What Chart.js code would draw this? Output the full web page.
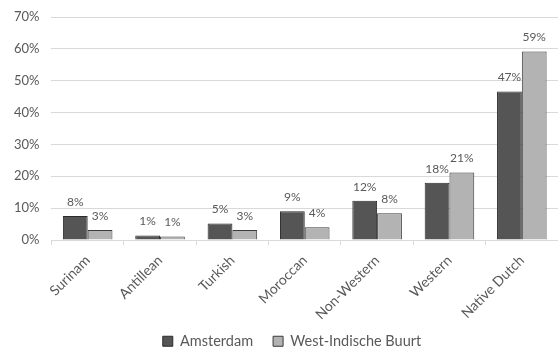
<!DOCTYPE html>
<html>
<head>
<meta charset="utf-8">
<script src="https://cdn.jsdelivr.net/npm/chart.js@4"></script>
<style>
  html, body { margin: 0; padding: 0; background: #fff; }
  #wrap { width: 558px; height: 347px; }
</style>
</head>
<body>
<div id="wrap"><canvas id="chart" width="558" height="347"></canvas></div>
<script>
// categories and values (percent)
const categories = ['Surinam', 'Antillean', 'Turkish', 'Moroccan', 'Non-Western', 'Western', 'Native Dutch'];
const amsterdam = [7.5, 1.4, 5.2, 9.0, 12.3, 18.0, 46.6];
const westIndische = [3.1, 1.1, 3.1, 4.0, 8.4, 21.2, 59.2];
const yTicks = [0, 10, 20, 30, 40, 50, 60, 70];

const textColor = '#595959';
const fontFamily = 'Lato, "Open Sans", sans-serif';

// 棒の上に値ラベルを描く
const valueLabels = {
    id: 'valueLabels',
    afterDatasetsDraw(chart) {
        const ctx = chart.ctx;
        ctx.save();
        ctx.font = '12px ' + fontFamily;
        ctx.fillStyle = textColor;
        ctx.textAlign = 'center';
        ctx.textBaseline = 'bottom';
        chart.data.datasets.forEach((ds, i) => {
            const meta = chart.getDatasetMeta(i);
            meta.data.forEach((bar, j) => {
                ctx.fillText(Math.round(ds.data[j]) + '%', bar.x, bar.y - 8);
            });
        });
        ctx.restore();
    }
};

// 凡例の位置を元の図に合わせる
const legendShift = {
    id: 'legendShift',
    afterLayout(chart) {
        const lg = chart.legend;
        if (lg) {
            lg.left += 12;
            lg.right += 12;
            lg.top = 314;
            lg.bottom = 347;
        }
    }
};

const chart = new Chart(document.getElementById('chart'), {
    type: 'bar',
    data: {
        labels: categories,
        datasets: [
            {
                label: 'Amsterdam',
                data: amsterdam,
                backgroundColor: '#555555',
                borderColor: '#2b2b2b',
                borderWidth: 1
            },
            {
                label: 'West-Indische Buurt',
                data: westIndische,
                backgroundColor: '#b3b3b3',
                borderColor: '#3a3a3a',
                borderWidth: 1
            }
        ]
    },
    plugins: [valueLabels, legendShift],
    options: {
        responsive: false,
        animation: false,
        layout: { padding: { left: 2, right: 0, top: 0, bottom: 0 } },
        datasets: {
            bar: { categoryPercentage: 0.685, barPercentage: 1.0 }
        },
        scales: {
            x: {
                grid: {
                    display: true,
                    drawOnChartArea: false,
                    drawTicks: true,
                    tickLength: 5,
                    color: '#d9d9d9'
                },
                border: { color: '#d9d9d9' },
                ticks: {
                    color: textColor,
                    font: { family: fontFamily, size: 14 },
                    maxRotation: 45,
                    minRotation: 45,
                    padding: 7
                },
                // 凡例との間隔を固定
                afterFit: (axis) => { axis.height = 90; }
            },
            y: {
                min: 0,
                max: 70,
                afterBuildTicks: (axis) => {
                    axis.ticks = yTicks.map(v => ({ value: v }));
                },
                afterFit: (axis) => { axis.paddingTop = 17; },
                grid: {
                    color: '#d9d9d9',
                    drawTicks: false
                },
                border: { display: false },
                ticks: {
                    color: textColor,
                    font: { family: fontFamily, size: 13 },
                    padding: 12,
                    callback: (v) => v + '%'
                }
            }
        },
        plugins: {
            legend: {
                position: 'bottom',
                labels: {
                    color: textColor,
                    font: { family: fontFamily, size: 14.5 },
                    boxWidth: 10,
                    boxHeight: 10,
                    padding: 20
                }
            },
            tooltip: { enabled: false }
        }
    }
});

// 凡例の高さを詰める
const legendFit = chart.legend.fit.bind(chart.legend);
chart.legend.fit = function () {
    legendFit();
    this.height = 17;
};
chart.update();
</script>
</body>
</html>
